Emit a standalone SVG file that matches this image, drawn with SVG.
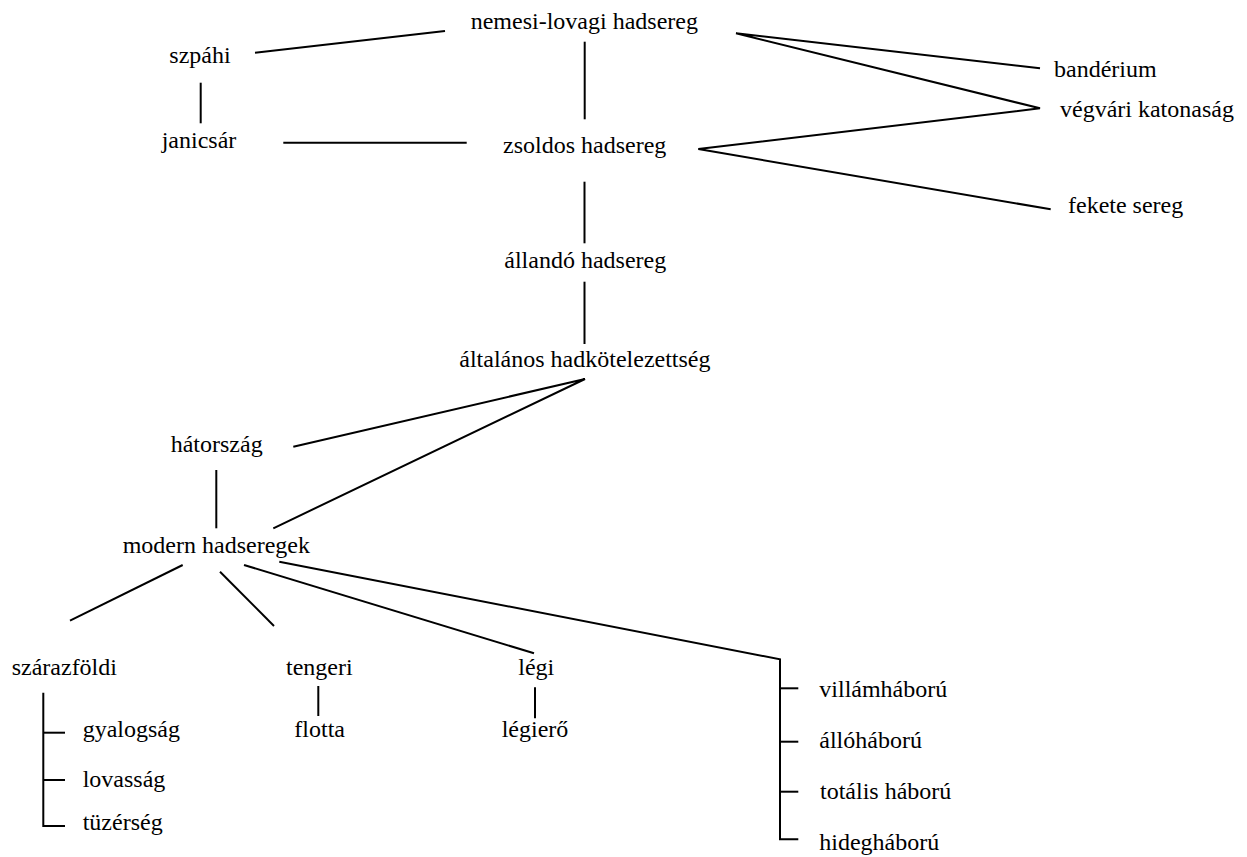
<svg xmlns="http://www.w3.org/2000/svg" width="1247" height="857" viewBox="0 0 1247 857">
<style>
text{font-family:"Liberation Serif","Times New Roman",serif;font-size:24px;fill:#000}
.c line,.c polyline,.c path{stroke:#000;stroke-width:2;fill:none}
</style>
<rect width="1247" height="857" fill="#fff"/>
<g class="c" id="connectors">
<line x1="255" y1="52.7" x2="445" y2="31"/>
<line x1="584.7" y1="41.7" x2="584.7" y2="119.3"/>
<line x1="200.7" y1="82.7" x2="200.7" y2="123.3"/>
<line x1="283.3" y1="142.7" x2="466.7" y2="142.7"/>
<polyline points="1040,68.3 736,33.3 1040,108.3 698.3,149 1050.7,209.3"/>
<line x1="584.5" y1="181.7" x2="584.5" y2="243.3"/>
<line x1="584.5" y1="281.7" x2="584.5" y2="344"/>
<polyline points="293.3,446.7 585,379 273.3,528.3"/>
<line x1="216.3" y1="470" x2="216.3" y2="528.3"/>
<line x1="182.7" y1="565" x2="70" y2="620.7"/>
<line x1="220" y1="571.7" x2="274" y2="626"/>
<line x1="244" y1="565" x2="534" y2="653.3"/>
<polyline points="279.3,561.7 780,659.3 780,839.3 798.3,839.3"/>
<line x1="780" y1="688.3" x2="798.3" y2="688.3"/>
<line x1="780" y1="741.7" x2="798.3" y2="741.7"/>
<line x1="780" y1="791.7" x2="798.3" y2="791.7"/>
<polyline points="43.3,692.7 43.3,826 65,826"/>
<line x1="43.3" y1="732.7" x2="65" y2="732.7"/>
<line x1="43.3" y1="780" x2="65" y2="780"/>
<line x1="318.3" y1="686" x2="318.3" y2="716"/>
<line x1="535" y1="687.3" x2="535" y2="718.3"/>
</g>
<g id="n-nemesi"><text x="470.7" y="28.5">nemesi-lovagi hadsereg</text></g>
<g id="n-szpahi"><text x="169.3" y="63">szpáhi</text></g>
<g id="n-banderium"><text x="1054" y="76.7">bandérium</text></g>
<g id="n-vegvari"><text x="1060" y="116.7">végvári katonaság</text></g>
<g id="n-janicsar"><text x="161.7" y="148.3">janicsár</text></g>
<g id="n-zsoldos"><text x="503" y="153.3">zsoldos hadsereg</text></g>
<g id="n-fekete"><text x="1068" y="213.3">fekete sereg</text></g>
<g id="n-allando"><text x="504.3" y="268.3">állandó hadsereg</text></g>
<g id="n-altalanos"><text x="459.3" y="367.3">általános hadkötelezettség</text></g>
<g id="n-hatorszag"><text x="170.7" y="452.3">hátország</text></g>
<g id="n-modern"><text x="122.7" y="552.7">modern hadseregek</text></g>
<g id="n-szarazfoldi"><text x="11.7" y="675">szárazföldi</text></g>
<g id="n-tengeri"><text x="286" y="675">tengeri</text></g>
<g id="n-legi"><text x="518.3" y="675">légi</text></g>
<g id="n-gyalogsag"><text x="82.7" y="737">gyalogság</text></g>
<g id="n-flotta"><text x="294.3" y="737">flotta</text></g>
<g id="n-legiero"><text x="501.7" y="737">légierő</text></g>
<g id="n-lovassag"><text x="82.7" y="786.7">lovasság</text></g>
<g id="n-tuzerseg"><text x="82.7" y="830">tüzérség</text></g>
<g id="n-villam"><text x="819.3" y="696.7">villámháború</text></g>
<g id="n-allo"><text x="819.3" y="748">állóháború</text></g>
<g id="n-totalis"><text x="820" y="799.3">totális háború</text></g>
<g id="n-hideg"><text x="819.3" y="850">hidegháború</text></g>
</svg>
